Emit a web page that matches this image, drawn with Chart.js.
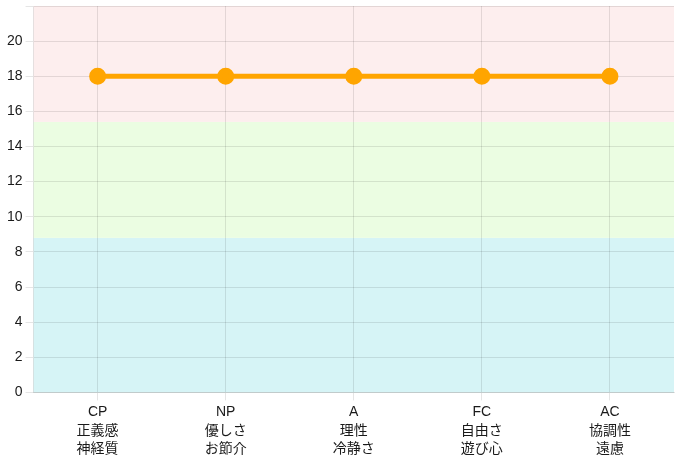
<!DOCTYPE html>
<html>
<head>
<meta charset="utf-8">
<script src="https://cdn.jsdelivr.net/npm/chart.js@4"></script>
<style>
  html, body { margin: 0; padding: 0; background: #fff; }
  #wrap { width: 686px; height: 466px; }
</style>
</head>
<body>
<div id="wrap"><canvas id="egoChart"></canvas></div>
<script>
const categories = [
    ['CP', '正義感', '神経質'],
    ['NP', '優しさ', 'お節介'],
    ['A', '理性', '冷静さ'],
    ['FC', '自由さ', '遊び心'],
    ['AC', '協調性', '遠慮']
];
const scores = [18, 18, 18, 18, 18];
const yMax = 22;
const yLabelMax = 20;
// background bands: [from, to, colour]
const bandEdges = [0, 8.8, 15.4, 22];
const bandColors = ['#d6f4f6', '#ebfde2', '#fdeeee'];

// paints the coloured zones behind the grid
const bandPlugin = {
    id: 'bands',
    beforeDraw(chart) {
        const { ctx, chartArea, scales } = chart;
        const y = scales.y;
        ctx.save();
        for (let i = 0; i < bandColors.length; i++) {
            const top = y.getPixelForValue(bandEdges[i + 1]);
            const bottom = y.getPixelForValue(bandEdges[i]);
            ctx.fillStyle = bandColors[i];
            ctx.fillRect(chartArea.left, top, chartArea.right - chartArea.left, bottom - top);
        }
        ctx.restore();
    }
};

const ctx = document.getElementById('egoChart').getContext('2d');
new Chart(ctx, {
    type: 'line',
    data: {
        labels: categories,
        datasets: [{
            label: 'score',
            data: scores,
            borderColor: '#ffa500',
            backgroundColor: '#ffa500',
            borderWidth: 5,
            pointRadius: 6,
            pointBackgroundColor: '#ffa500',
            pointBorderColor: '#ffa500'
        }]
    },
    options: {
        responsive: true,
        maintainAspectRatio: false,
        animation: false,
        layout: { autoPadding: false, padding: { top: 6, right: 12, left: 4, bottom: 5 } },
        plugins: {
            legend: { display: false },
            tooltip: { enabled: false }
        },
        scales: {
            x: {
                offset: true,
                grid: { color: 'rgba(0,0,0,0.1)', offset: false },
                ticks: {
                    color: '#1a1a1a',
                    font: { family: 'Liberation Sans, Noto Sans CJK JP', size: 14, lineHeight: 1.3 },
                    maxRotation: 0
                }
            },
            y: {
                min: 0,
                max: yMax,
                grid: { color: 'rgba(0,0,0,0.1)' },
                ticks: {
                    stepSize: 2,
                    color: '#1a1a1a',
                    // the unlabeled top tick gets a tiny font so it takes no room
                    font: c => ({ family: 'Liberation Sans', size: c.tick && c.tick.value > yLabelMax ? 1 : 14 }),
                    callback: v => (v <= yLabelMax ? v : '')
                }
            }
        }
    },
    plugins: [bandPlugin]
});
</script>
</body>
</html>
